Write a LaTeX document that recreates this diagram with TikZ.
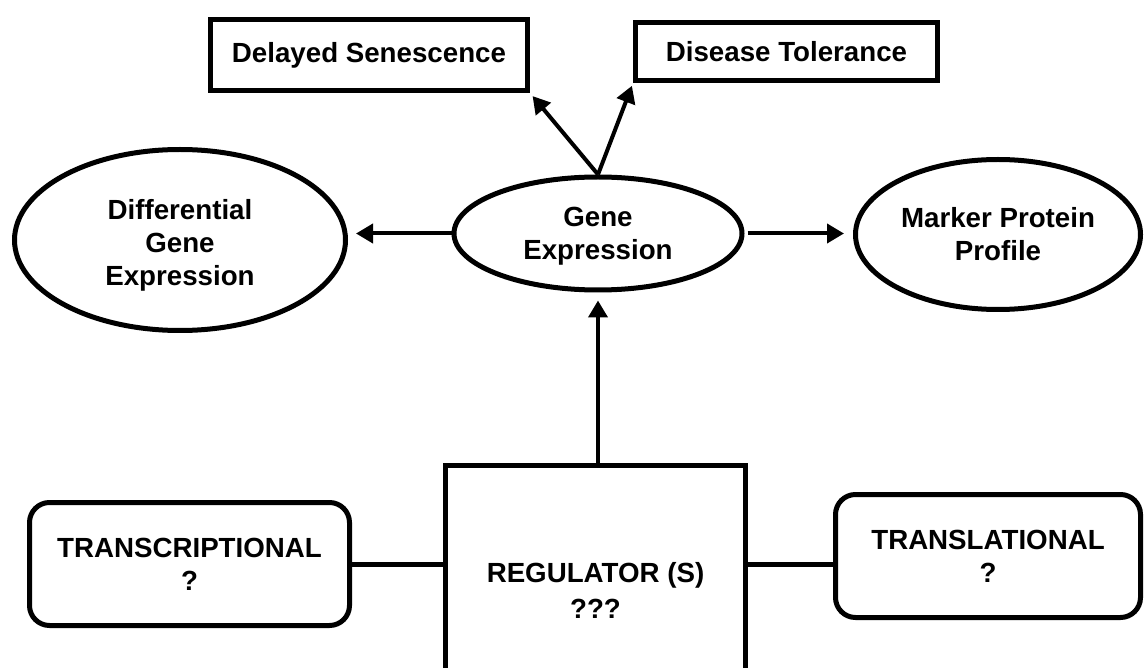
\documentclass[tikz,border=0pt]{standalone}
\usepackage{fontspec}
\setmainfont{Liberation Sans}
\usetikzlibrary{shapes.geometric,arrows.meta}
\begin{document}
\begin{tikzpicture}[x=1pt,y=-1pt,
  every node/.style={font=\bfseries\fontsize{27.7}{33}\selectfont, align=center, inner sep=0pt},
  oval/.style={ellipse, draw, line width=5pt},
  sqbox/.style={rectangle, draw, line width=5pt},
  rbox/.style={rectangle, draw, line width=5pt, rounded corners=20pt},
  arr/.style={line width=4pt, -{Triangle[length=17pt,width=19pt]}},
  link/.style={line width=5pt}]
\clip (0,0) rectangle (1146,668);
\fill[white] (0,0) rectangle (1146,668);
\node[sqbox, minimum width=317pt, minimum height=71pt] (ds) at (369,55) {Delayed Senescence};
\node[sqbox, minimum width=302pt, minimum height=58pt] (dt) at (786.5,51.5) {Disease Tolerance};
\node[oval, minimum width=288pt, minimum height=113pt] (ge) at (598,233.5) {};
\node (geT) at (598,236) {Gene\\Expression};
\node[oval, minimum width=331pt, minimum height=181pt] (dge) at (180,240) {};
\node (dgeT) at (180,245) {Differential\\Gene\\Expression};
\node[oval, minimum width=285pt, minimum height=150pt] (mpp) at (998,234.5) {Marker Protein\\Profile};
\node[sqbox, minimum width=300pt, minimum height=250pt, font=\bfseries\fontsize{27.7}{36}\selectfont] (reg) at (595.5,590) {REGULATOR (S)\\???};
\node[rbox, minimum width=320pt, minimum height=123pt] (tr) at (189.5,564) {TRANSCRIPTIONAL\\?};
\node[rbox, minimum width=305pt, minimum height=123pt] (tl) at (988,556) {TRANSLATIONAL\\?};
\draw[arr, shorten >=8pt] (ge.west) -- (ge.west -| dge.east);
\draw[arr, shorten <=3pt, shorten >=9pt] (ge.east) -- (ge.east -| mpp.west);
\draw[arr, shorten >=8pt] (reg.north -| ge.south) -- (ge.south);
\draw[arr, shorten >=4pt] (ge.north) -- (ds.south east);
\draw[arr, shorten >=3pt] (ge.north) -- (dt.south west);
\draw[link] (tr.east) -- (reg.west |- tr.east);
\draw[link] (reg.east |- tr.east) -- (tl.west |- tr.east);
\end{tikzpicture}
\end{document}
